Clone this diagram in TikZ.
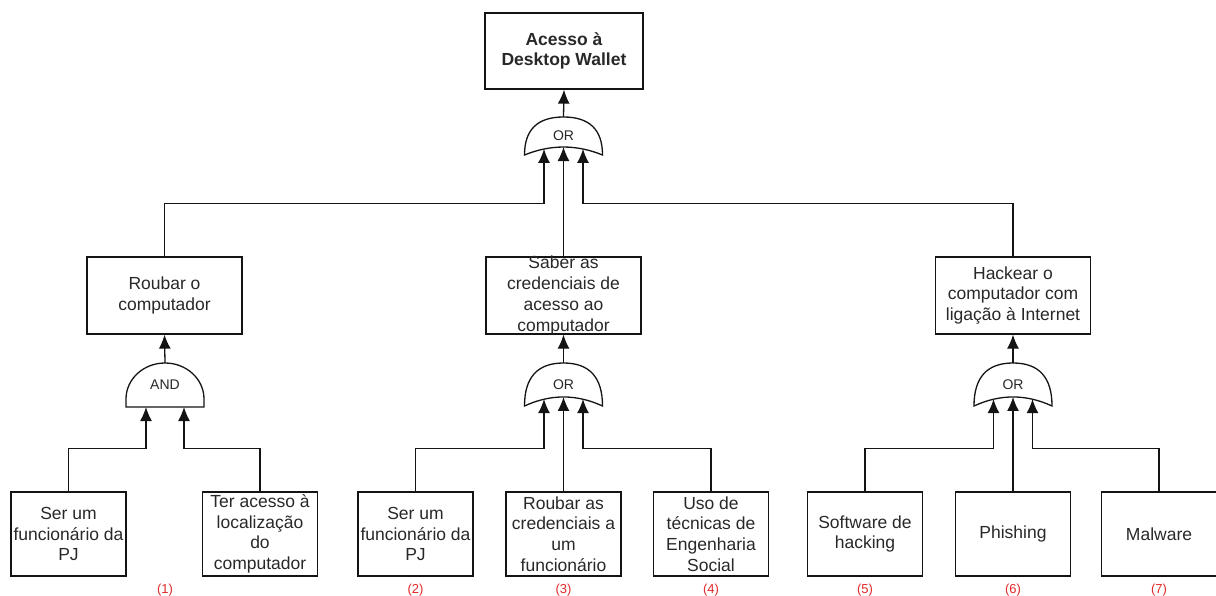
\documentclass[tikz,border=0pt]{standalone}
\usepackage{fontspec}
\setmainfont{Liberation Sans}
\usetikzlibrary{arrows.meta}

\definecolor{ink}{RGB}{20,20,20}
\definecolor{txt}{RGB}{40,40,40}
\definecolor{tag}{RGB}{225,40,40}

\tikzset{
  event/.style={draw=ink, line width=1.3pt, inner sep=0pt, minimum width=115pt, minimum height=84pt},
  midevent/.style={event, minimum width=155pt, minimum height=77pt},
  topevent/.style={event, minimum width=158pt, minimum height=76pt},
  eventtext/.style={text=txt, align=center, inner sep=0pt, font=\fontsize{17.5}{20.7}\selectfont},
  gatelbl/.style={text=txt, inner sep=0pt, font=\fontsize{14}{16}\selectfont},
  gateshape/.style={draw=ink, line width=1.3pt, fill=white},
  wire/.style={draw=ink, line width=1.3pt},
  feed/.style={wire, -{Latex[length=14pt, width=12pt]}},
  tagtext/.style={text=tag, inner sep=0pt, font=\fontsize{13}{15}\selectfont},
}

% OR gate: name, centre x, top y, bottom y (y grows downwards)
\newcommand{\orgate}[4]{%
  \pgfmathsetmacro{\gatebow}{0.42*(#4-#3)}%
  \draw[gateshape] (#2-39,#4)
     .. controls (#2-39,{#4-2/3*(#4-#3)}) and (#2-26,#3) .. (#2,#3)
     .. controls (#2+26,#3) and (#2+39,{#4-2/3*(#4-#3)}) .. (#2+39,#4)
     .. controls (#2+13,{#4-2/3*\gatebow}) and (#2-13,{#4-2/3*\gatebow}) .. cycle;
  \coordinate (#1out) at (#2,#3);
  \coordinate (#1a) at (#2-19.5,{#4-0.381*\gatebow});
  \coordinate (#1b) at (#2,{#4-0.5*\gatebow});
  \coordinate (#1c) at (#2+19.5,{#4-0.381*\gatebow});
  \node[gatelbl] (#1lbl) at (#2,{(#3+#4)/2}) {OR};
}

% AND gate: name, centre x, top y, bottom y
\newcommand{\andgate}[4]{%
  \draw[gateshape] (#2-39,#4) -- (#2-39,#4-8)
     arc[start angle=180, end angle=0, x radius=39pt, y radius={(#4-#3-8)*1pt}]
     -- (#2+39,#4) -- cycle;
  \coordinate (#1out) at (#2,#3);
  \coordinate (#1a) at (#2-19,#4);
  \coordinate (#1b) at (#2+19,#4);
  \node[gatelbl] (#1lbl) at (#2,{(#3+#4)/2}) {AND};
}

\begin{document}
\begin{tikzpicture}[x=1pt, y=-1pt]
  \useasboundingbox (0,0) rectangle (1216,596);

  % top event
  \node[topevent] (top) at (564,51) {};
  \node[eventtext, font=\fontsize{17.5}{20.7}\selectfont\bfseries] (toptxt) at (top.center) {Acesso à\\Desktop Wallet};

  % intermediate events
  \node[midevent] (m1) at (164.5,295.5) {};
  \node[eventtext] (m1txt) at (m1.center) {Roubar o\\computador};
  \node[midevent] (m2) at (563.5,295.5) {};
  \node[eventtext] (m2txt) at (m2.center) {Saber as\\credenciais de\\acesso ao\\computador};
  \node[midevent] (m3) at (1013,295.5) {};
  \node[eventtext] (m3txt) at (m3.center) {Hackear o\\computador com\\ligação à Internet};

  % basic events
  \node[event] (l1) at (68.5,534) {};
  \node[eventtext] (l1txt) at (l1.center) {Ser um\\funcionário da\\PJ};
  \node[event] (l2) at (260,534) {};
  \node[eventtext] (l2txt) at (l2.center) {Ter acesso à\\localização\\do\\computador};
  \node[event] (l3) at (415.5,534) {};
  \node[eventtext] (l3txt) at (l3.center) {Ser um\\funcionário da\\PJ};
  \node[event] (l4) at (563.5,534) {};
  \node[eventtext] (l4txt) at (l4.center) {Roubar as\\credenciais a\\um\\funcionário};
  \node[event] (l5) at (711,534) {};
  \node[eventtext] (l5txt) at (l5.center) {Uso de\\técnicas de\\Engenharia\\Social};
  \node[event] (l6) at (865,534) {};
  \node[eventtext] (l6txt) at (l6.center) {Software de\\hacking};
  \node[event] (l7) at (1013,534) {};
  \node[eventtext] (l7txt) at (l7.center) {Phishing};
  \node[event] (l8) at (1159,534) {};
  \node[eventtext] (l8txt) at (l8.center) {Malware};

  % scenario numbers
  \node[tagtext] (n1) at (165,590) {(1)};
  \node[tagtext] (n2) at (415.5,590) {(2)};
  \node[tagtext] (n3) at (563.5,590) {(3)};
  \node[tagtext] (n4) at (711,590) {(4)};
  \node[tagtext] (n5) at (865,590) {(5)};
  \node[tagtext] (n6) at (1013,590) {(6)};
  \node[tagtext] (n7) at (1159,590) {(7)};

  % gates
  \orgate{g0}{563.5}{117}{155}
  \andgate{g1}{165}{363}{407}
  \orgate{g2}{563.5}{363}{406}
  \orgate{g3}{1013}{363}{406}

  % gate outputs
  \draw[feed] (g0out) -- (top.south);
  \draw[feed] (g1out) -- (m1.south);
  \draw[feed] (g2out) -- (m2.south);
  \draw[feed] (g3out) -- (m3.south);

  % gate inputs: top OR
  \draw[feed] (m1.north) -- ++(0,-52.5) -| (g0a);
  \draw[feed] (m2.north) -- (g0b);
  \draw[feed] (m3.north) -- ++(0,-52.5) -| (g0c);

  % gate inputs: AND
  \draw[feed] (l1.north) -- ++(0,-43) -| (g1a);
  \draw[feed] (l2.north) -- ++(0,-43) -| (g1b);

  % gate inputs: middle OR
  \draw[feed] (l3.north) -- ++(0,-43) -| (g2a);
  \draw[feed] (l4.north) -- (g2b);
  \draw[feed] (l5.north) -- ++(0,-43) -| (g2c);

  % gate inputs: right OR
  \draw[feed] (l6.north) -- ++(0,-43) -| (g3a);
  \draw[feed] (l7.north) -- (g3b);
  \draw[feed] (l8.north) -- ++(0,-43) -| (g3c);
\end{tikzpicture}
\end{document}
